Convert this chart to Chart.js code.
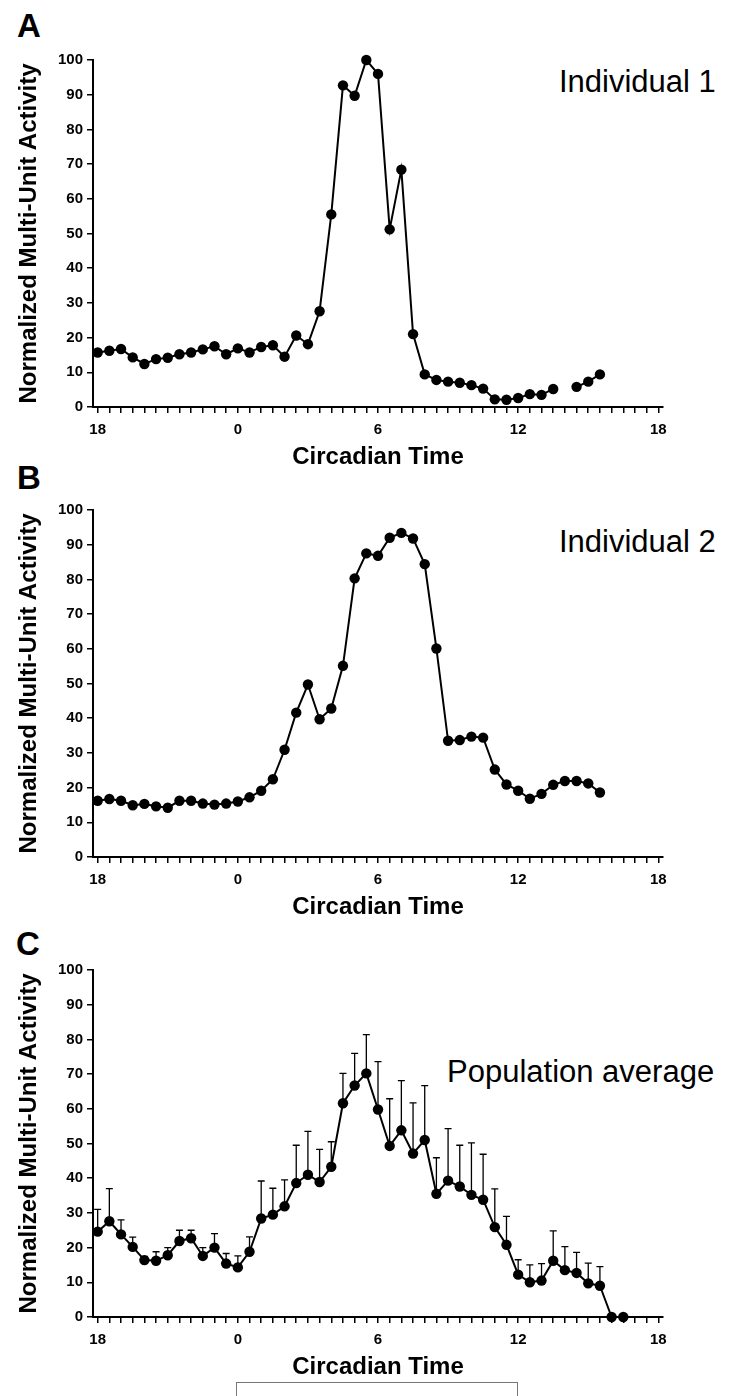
<!DOCTYPE html>
<html>
<head>
<meta charset="utf-8">
<script src="https://cdn.jsdelivr.net/npm/chart.js@4.4.0/dist/chart.umd.min.js"></script>
<style>
  body { margin: 0; background: #fff; width: 742px; height: 1396px; position: relative; overflow: hidden;
         font-family: "Liberation Sans", Arial, sans-serif; }
  canvas { position: absolute; left: 0; }
  .lbl { position: absolute; line-height: 1; color: #000; white-space: nowrap; }
  .letter { font-weight: bold; font-size: 33px; }
  .note { font-size: 31px; }
  .box { position: absolute; left: 236px; top: 1382px; width: 280px; height: 40px; border: 1px solid #777; }
</style>
</head>
<body>
<div class="lbl letter" style="left:17px;top:9px">A</div>
<div class="lbl letter" style="left:17px;top:461px">B</div>
<div class="lbl letter" style="left:16px;top:927px">C</div>
<div class="lbl note" style="left:559px;top:66px">Individual 1</div>
<div class="lbl note" style="left:559px;top:526px">Individual 2</div>
<div class="lbl note" style="left:447px;top:1056px">Population average</div>

<canvas id="chartA" width="742" height="430" style="top:47px"></canvas>
<canvas id="chartB" width="742" height="430" style="top:497px"></canvas>
<canvas id="chartC" width="742" height="430" style="top:957px"></canvas>
<div class="box"></div>

<script>
// circadian time in hours, -6 = CT18 of the previous cycle
const timesAB = [-6, -5.5, -5, -4.5, -4, -3.5, -3, -2.5, -2, -1.5, -1, -0.5,
                 0, 0.5, 1, 1.5, 2, 2.5, 3, 3.5, 4, 4.5, 5, 5.5,
                 6, 6.5, 7, 7.5, 8, 8.5, 9, 9.5, 10, 10.5, 11, 11.5,
                 12, 12.5, 13, 13.5, 14, 14.5, 15, 15.5];
const timesC = [-6, -5.5, -5, -4.5, -4, -3.5, -3, -2.5, -2, -1.5, -1, -0.5,
                0, 0.5, 1, 1.5, 2, 2.5, 3, 3.5, 4, 4.5, 5, 5.5,
                6, 6.5, 7, 7.5, 8, 8.5, 9, 9.5, 10, 10.5, 11, 11.5,
                12, 12.5, 13, 13.5, 14, 14.5, 15, 15.5, 16, 16.5];

// Individual 1 (one missing sample at CT14)
const activityA = [15.7, 16.2, 16.7, 14.3, 12.4, 13.8, 14.2, 15.2, 15.7, 16.6, 17.5, 15.2,
                   16.9, 15.7, 17.3, 17.8, 14.5, 20.6, 18.1, 27.6, 55.5, 92.7, 89.7, 100,
                   96, 51.2, 68.4, 21, 9.4, 7.8, 7.3, 7.0, 6.3, 5.3, 2.2, 2.1,
                   2.6, 3.7, 3.5, 5.2, null, 5.8, 7.3, 9.4];

// Individual 2
const activityB = [16.2, 16.7, 16.2, 14.9, 15.3, 14.6, 14.2, 16.2, 16.2, 15.4, 15.1, 15.4,
                   16.0, 17.2, 19.1, 22.4, 30.9, 41.6, 49.7, 39.7, 42.8, 55.1, 80.3, 87.5,
                   86.8, 92.0, 93.4, 91.8, 84.4, 60.1, 33.5, 33.7, 34.7, 34.4, 25.2, 20.9,
                   19.1, 16.8, 18.2, 20.8, 21.9, 21.9, 21.2, 18.6];

// Population average and upward error (SEM)
const activityC = [24.6, 27.6, 23.8, 20.2, 16.4, 16.2, 17.8, 21.9, 22.7, 17.6, 20, 15.4,
                   14.3, 18.8, 28.4, 29.5, 31.9, 38.6, 41, 38.9, 43.3, 61.6, 66.7, 70.2,
                   59.8, 49.3, 53.8, 47.1, 51, 35.5, 39.3, 37.6, 35.2, 33.8, 25.9, 20.8,
                   12.2, 10, 10.5, 16.2, 13.5, 12.7, 9.7, 9, 0, 0];
const semC = [6.4, 9.4, 4.2, 2.8, 1.1, 2.6, 2.2, 3.1, 2.3, 2.4, 4, 2.9,
              3.3, 4.3, 10.8, 7.6, 7.6, 10.9, 12.5, 9.4, 7.2, 8.6, 9.3, 11.2,
              13.8, 13.6, 14.3, 14.6, 15.7, 10.4, 15, 11.9, 15, 13.1, 11, 8.2,
              4.3, 5, 4.9, 8.6, 6.8, 5.9, 5.8, 5.5, 0, 0];

const xTickValues = [-6, 0, 6, 12, 18];
const xTickLabels = ['18', '0', '6', '12', '18'];
const xTitle = 'Circadian Time';
const yTitle = 'Normalized Multi-Unit Activity';

const FONT = '"Liberation Sans", Arial, sans-serif';

function errorBarPlugin(errors) {
  return {
    id: 'errorBars',
    beforeDatasetsDraw(chart) {
      if (!errors) return;
      const { ctx, scales: { x, y } } = chart;
      const pts = chart.data.datasets[0].data;
      ctx.save();
      ctx.strokeStyle = '#000';
      ctx.lineWidth = 1.3;
      pts.forEach((p, i) => {
        if (p.y == null || !errors[i]) return;
        const px = x.getPixelForValue(p.x);
        const y0 = y.getPixelForValue(p.y);
        const y1 = y.getPixelForValue(p.y + errors[i]);
        ctx.beginPath();
        ctx.moveTo(px, y0); ctx.lineTo(px, y1);
        ctx.moveTo(px - 3.5, y1); ctx.lineTo(px + 3.5, y1);
        ctx.stroke();
      });
      ctx.restore();
    }
  };
}

function makeChart(id, times, values, errors) {
  const ctx = document.getElementById(id).getContext('2d');
  return new Chart(ctx, {
    type: 'line',
    data: {
      datasets: [{
        data: times.map((t, i) => ({ x: t, y: values[i] })),
        borderColor: '#000',
        borderWidth: 2,
        backgroundColor: '#000',
        pointRadius: 5.2,
        pointBorderWidth: 0,
        pointBackgroundColor: '#000',
        tension: 0,
        spanGaps: false,
        clip: false
      }]
    },
    options: {
      responsive: false,
      animation: false,
      devicePixelRatio: 1,
      layout: { padding: { top: 10, right: 79, bottom: 0, left: 0 } },
      plugins: { legend: { display: false }, tooltip: { enabled: false } },
      scales: {
        x: {
          type: 'linear',
          min: -6.2,
          max: 18.2,
          afterBuildTicks: scale => {
            const t = [];
            for (let v = -6; v <= 18; v += 0.5) t.push({ value: v });
            scale.ticks = t;
          },
          afterFit: scale => { scale.height = 70; },
          grid: { drawOnChartArea: false, drawTicks: true, tickLength: 6, color: '#000', lineWidth: 1.5 },
          border: { display: true, color: '#000', width: 2 },
          ticks: {
            autoSkip: false, maxRotation: 0, padding: 8, color: '#000',
            font: { family: FONT, size: 15, weight: 'bold' },
            callback: v => { const k = xTickValues.indexOf(v); return k >= 0 ? xTickLabels[k] : ''; }
          },
          title: {
            display: true, text: xTitle, color: '#000',
            font: { family: FONT, size: 24, weight: 'bold' },
            padding: { top: 0, bottom: 5 }
          }
        },
        y: {
          min: 0,
          max: 100,
          afterFit: scale => { scale.width = 93; },
          grid: { drawOnChartArea: false, drawTicks: true, tickLength: 6, color: '#000', lineWidth: 1.5 },
          border: { display: true, color: '#000', width: 2 },
          ticks: {
            stepSize: 10, padding: 4, color: '#000',
            font: { family: FONT, size: 15, weight: 'bold' }
          },
          title: {
            display: true, text: yTitle, color: '#000',
            font: { family: FONT, size: 24, weight: 'bold' },
            padding: { top: 15, bottom: 0 }
          }
        }
      }
    },
    plugins: [errorBarPlugin(errors)]
  });
}

makeChart('chartA', timesAB, activityA, null);
makeChart('chartB', timesAB, activityB, null);
makeChart('chartC', timesC, activityC, semC);
</script>
</body>
</html>
